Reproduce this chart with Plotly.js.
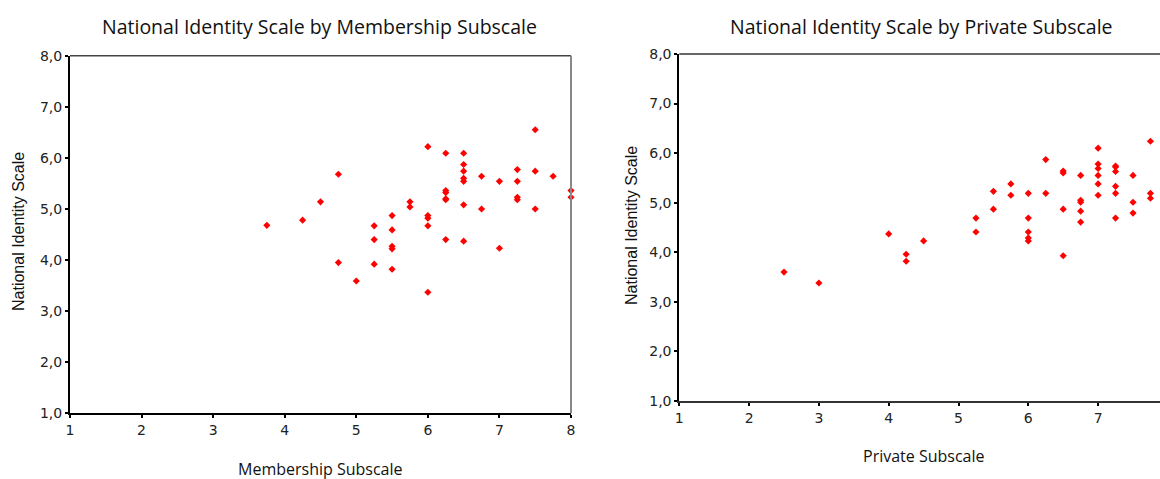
<!DOCTYPE html>
<html><head><meta charset="utf-8">
<script src="https://cdn.plot.ly/plotly-3.0.1.min.js"></script>
<style>html,body{margin:0;padding:0;background:#fff}#chart{width:1160px;height:479px}</style>
</head><body><div id="chart"></div>
<script>
// Left panel: Membership Subscale vs National Identity Scale
const membershipX = [7.5,6.0,6.25,6.5,6.5,6.5,6.5,6.5,4.75,6.75,7.0,7.25,7.25,7.5,7.75,8.0,8.0,4.5,4.25,3.75,5.75,5.75,6.25,6.25,6.25,6.25,6.5,6.75,7.25,7.25,7.5,5.5,6.0,6.0,6.0,5.25,5.5,5.25,5.5,5.5,6.25,6.5,7.0,4.75,5.25,5.5,5.0,6.0];
const membershipY = [6.55,6.22,6.09,6.09,5.87,5.74,5.60,5.54,5.68,5.64,5.54,5.77,5.54,5.74,5.64,5.36,5.23,5.14,4.78,4.68,5.14,5.04,5.36,5.32,5.18,5.20,5.08,5.00,5.23,5.18,5.00,4.87,4.87,4.82,4.67,4.67,4.59,4.40,4.27,4.22,4.40,4.37,4.23,3.95,3.92,3.82,3.59,3.37];
// Right panel: Private Subscale vs National Identity Scale
const privateX = [2.5,3.0,4.0,4.25,4.25,4.5,5.25,5.25,5.5,5.5,5.75,5.75,6.0,6.0,6.0,6.0,6.0,6.25,6.25,6.5,6.5,6.5,6.5,6.75,6.75,6.75,6.75,6.75,7.0,7.0,7.0,7.0,7.0,7.0,7.25,7.25,7.25,7.25,7.25,7.25,7.5,7.5,7.5,7.75,7.75,7.75];
const privateY = [3.60,3.38,4.37,3.96,3.82,4.23,4.69,4.41,5.23,4.87,5.38,5.15,5.19,4.69,4.41,4.29,4.23,5.87,5.19,5.64,5.60,4.87,3.93,5.55,5.05,5.01,4.83,4.61,6.10,5.78,5.69,5.55,5.38,5.15,5.74,5.72,5.63,5.33,5.19,4.69,5.55,5.01,4.79,6.24,5.19,5.09];
const yTicks = [1,2,3,4,5,6,7,8];
const xTicks = [1,2,3,4,5,6,7,8];

const W = 1160, H = 479;
const tickFont = {family: 'DejaVu Sans, Verdana, sans-serif', size: 14, color: '#222'};
const marker = {symbol: 'diamond', size: 5.5, color: '#ff0000', line: {width: 0}};

const traces = [
  {x: membershipX, y: membershipY, type: 'scatter', mode: 'markers', marker: marker, xaxis: 'x', yaxis: 'y', cliponaxis: false, hoverinfo: 'x+y'},
  {x: privateX, y: privateY, type: 'scatter', mode: 'markers', marker: marker, xaxis: 'x2', yaxis: 'y2', cliponaxis: false, hoverinfo: 'x+y'}
];

const xCommon = {tickvals: xTicks, ticks: 'outside', ticklen: 3, tickwidth: 2, tickcolor: '#000',
  showline: true, linecolor: '#000', linewidth: 2, showgrid: false, zeroline: false, tickfont: tickFont, fixedrange: true};
const yCommon = {tickvals: yTicks, tickformat: '.1f', ticks: 'outside', ticklen: 3, tickwidth: 2, tickcolor: '#000',
  showline: true, linecolor: '#000', linewidth: 2, showgrid: false, zeroline: false, tickfont: tickFont, fixedrange: true};

const layout = {
  width: W, height: H,
  margin: {l: 0, r: 0, t: 0, b: 0},
  paper_bgcolor: '#fff', plot_bgcolor: '#fff',
  showlegend: false,
  separators: ', ',
  xaxis: Object.assign({}, xCommon, {domain: [70/W, 571/W], range: [1, 8], anchor: 'y'}),
  yaxis: Object.assign({}, yCommon, {domain: [(H-413.3)/H, (H-55.7)/H], range: [1, 8], anchor: 'x'}),
  xaxis2: Object.assign({}, xCommon, {domain: [679.3/W, 1], range: [1, 1 + (1160-679.3)/69.8], anchor: 'y2', linecolor: '#333'}),
  yaxis2: Object.assign({}, yCommon, {domain: [(H-401)/H, (H-54)/H], range: [1, 8], anchor: 'x2'}),
  shapes: [
    {type: 'line', xref: 'x domain', yref: 'y domain', x0: 0, x1: 1, y0: 1, y1: 1, line: {color: '#444', width: 1.5}},
    {type: 'line', xref: 'x domain', yref: 'y domain', x0: 1, x1: 1, y0: 0, y1: 1, line: {color: '#888', width: 2}},
    {type: 'line', xref: 'x2 domain', yref: 'y2 domain', x0: 0, x1: 1, y0: 1, y1: 1, line: {color: '#333', width: 1.5}}
  ],
  annotations: [
    {text: 'National Identity Scale by Membership Subscale', xref: 'paper', yref: 'paper', x: 319/W, y: (H-27)/H,
      xanchor: 'center', yanchor: 'middle', showarrow: false, font: {family: 'Open Sans, sans-serif', size: 19.5, color: '#111'}},
    {text: 'National Identity Scale by Private Subscale', xref: 'paper', yref: 'paper', x: 921/W, y: (H-27)/H,
      xanchor: 'center', yanchor: 'middle', showarrow: false, font: {family: 'Open Sans, sans-serif', size: 19.5, color: '#111'}},
    {text: 'Membership Subscale', xref: 'paper', yref: 'paper', x: 320/W, y: (H-469)/H,
      xanchor: 'center', yanchor: 'middle', showarrow: false, font: {family: 'Open Sans, sans-serif', size: 16, color: '#111'}},
    {text: 'Private Subscale', xref: 'paper', yref: 'paper', x: 924/W, y: (H-456)/H,
      xanchor: 'center', yanchor: 'middle', showarrow: false, font: {family: 'Open Sans, sans-serif', size: 16, color: '#111'}},
    {text: 'National Identity Scale', xref: 'paper', yref: 'paper', x: 18/W, y: (H-232)/H, textangle: -90,
      xanchor: 'center', yanchor: 'middle', showarrow: false, font: {family: 'Liberation Sans, Arial, sans-serif', size: 16, color: '#111'}},
    {text: 'National Identity Scale', xref: 'paper', yref: 'paper', x: 631/W, y: (H-226)/H, textangle: -90,
      xanchor: 'center', yanchor: 'middle', showarrow: false, font: {family: 'Liberation Sans, Arial, sans-serif', size: 16, color: '#111'}}
  ]
};

Plotly.newPlot('chart', traces, layout, {displayModeBar: false, staticPlot: true});
</script></body></html>
